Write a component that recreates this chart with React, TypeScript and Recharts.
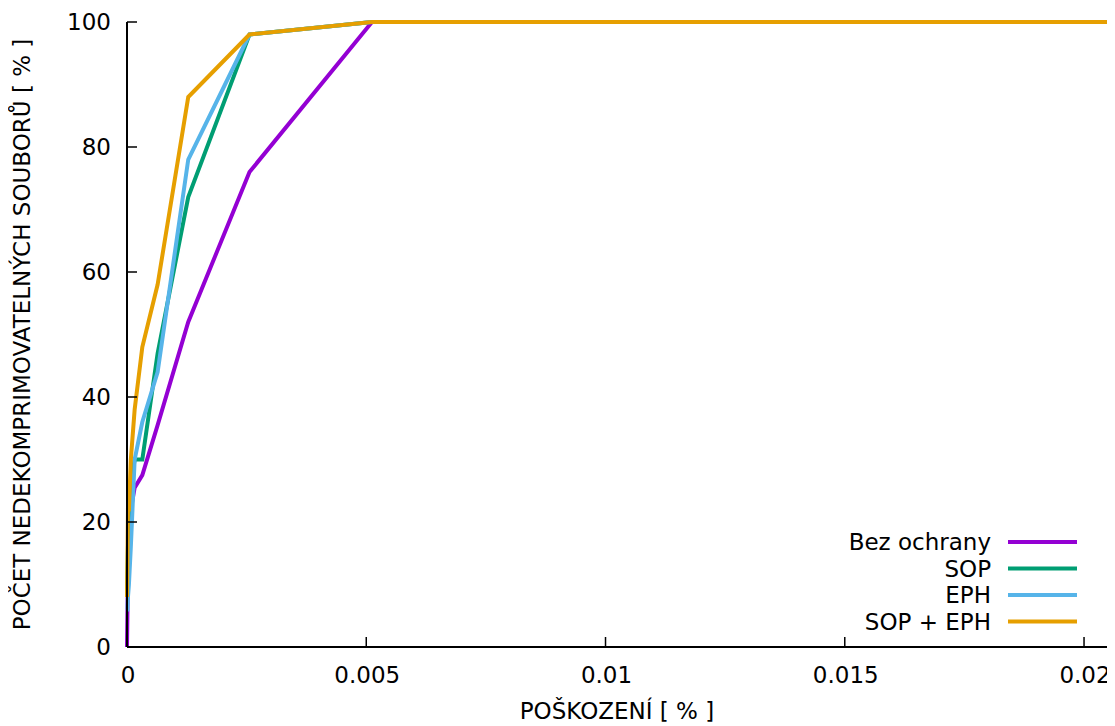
import React from "react";
import { LineChart, Line, XAxis, YAxis, Label } from "recharts";

const damage = [0, 0.00001, 0.00002, 0.00004, 0.00008, 0.00016, 0.00032, 0.00064, 0.00128, 0.00256, 0.00512, 0.01024, 0.02048];
const bezOchrany = [0, 6, 12, 18, 22, 25.5, 27.5, 35.5, 52, 76, 100, 100, 100];
const sop = [8, 12, 16, 20, 26, 30, 30, 47, 72, 98, 100, 100, 100];
const eph = [6, 6, 8, 10, 16, 30, 36, 44, 78, 98, 100, 100, 100];
const sopEph = [8, 14, 22, 22, 30, 38, 48, 58, 88, 98, 100, 100, 100];

const xTicks = [0, 0.005, 0.01, 0.015, 0.02];
const yTicks = [0, 20, 40, 60, 80, 100];

const SERIES = [
  { key: "bez", name: "Bez ochrany", color: "#9400d3" },
  { key: "sop", name: "SOP", color: "#009e73" },
  { key: "eph", name: "EPH", color: "#56b4e9" },
  { key: "both", name: "SOP + EPH", color: "#e69f00" },
];

const data = damage.map((x, i) => ({
  x,
  bez: bezOchrany[i],
  sop: sop[i],
  eph: eph[i],
  both: sopEph[i],
}));

const FONT = "'DejaVu Sans', sans-serif";
const FS = 23;
const TICK = 10;

const fmtX = (v: number) => (v === 0 ? "0" : String(Number(v.toFixed(3))));

const BottomTick = ({ x, y, payload }: any) => (
  <g>
    <line x1={x} x2={x} y1={y} y2={y - TICK} stroke="#000" strokeWidth={1.5} />
    <text x={x + 1} y={y + 28} textAnchor="middle" dominantBaseline="central" fontFamily={FONT} fontSize={FS} fill="#000">
      {fmtX(payload.value)}
    </text>
  </g>
);

const TopTick = ({ x, y }: any) => (
  <line x1={x} x2={x} y1={y} y2={y + TICK} stroke="#000" strokeWidth={1.5} />
);

const LeftTick = ({ x, y, payload }: any) => (
  <g>
    <line x1={x} x2={x + TICK} y1={y} y2={y} stroke="#000" strokeWidth={1.5} />
    <text x={x - 16} y={y} textAnchor="end" dominantBaseline="central" fontFamily={FONT} fontSize={FS} fill="#000">
      {payload.value}
    </text>
  </g>
);

const RightTick = ({ x, y }: any) => (
  <line x1={x} x2={x - TICK} y1={y} y2={y} stroke="#000" strokeWidth={1.5} />
);

const LegendBox = () => (
  <svg width={260} height={112} style={{ display: "block" }}>
    {SERIES.map((s, i) => {
      const cy = 14 + i * 26.5;
      return (
        <g key={s.key}>
          <text x={159} y={cy} textAnchor="end" dominantBaseline="central" fontFamily={FONT} fontSize={FS} fill="#000">
            {s.name}
          </text>
          <line x1={176} x2={245} y1={cy} y2={cy} stroke={s.color} strokeWidth={4} />
        </g>
      );
    })}
  </svg>
);

export default function App() {
  return (
    <div style={{ position: "relative", width: 1107, height: 718 }}>
      <LineChart width={1107} height={718} data={data} margin={{ top: 14, right: 8, left: 0, bottom: 0 }}>
        <XAxis
          dataKey="x"
          type="number"
          domain={[0, 0.02048]}
          ticks={xTicks}
          interval={0}
          height={79}
          tickSize={0}
          tickMargin={0}
          tickLine={false}
          tick={<BottomTick />}
          axisLine={{ stroke: "#000", strokeWidth: 2 }}
        >
          <Label value="POŠKOZENÍ [ % ]" position="insideBottom" offset={7} style={{ fontFamily: FONT, fontSize: FS, fill: "#000" }} />
        </XAxis>
        <XAxis
          xAxisId="top"
          orientation="top"
          dataKey="x"
          type="number"
          domain={[0, 0.02048]}
          ticks={xTicks}
          interval={0}
          height={0}
          tickSize={0}
          tickMargin={0}
          tickLine={false}
          tick={<TopTick />}
          axisLine={{ stroke: "#000", strokeWidth: 2 }}
        />
        <YAxis
          type="number"
          domain={[0, 100]}
          ticks={yTicks}
          interval={0}
          width={119}
          tickSize={0}
          tickMargin={0}
          tickLine={false}
          tick={<LeftTick />}
          axisLine={{ stroke: "#000", strokeWidth: 2 }}
        >
          <Label
            value="POČET NEDEKOMPRIMOVATELNÝCH SOUBORŮ [ % ]"
            angle={-90}
            position="insideLeft"
            offset={14}
            style={{ textAnchor: "middle", fontFamily: FONT, fontSize: FS, fill: "#000" }}
          />
        </YAxis>
        <YAxis
          yAxisId="right"
          orientation="right"
          type="number"
          domain={[0, 100]}
          ticks={yTicks}
          interval={0}
          width={0}
          tickSize={0}
          tickMargin={0}
          tickLine={false}
          tick={<RightTick />}
          axisLine={{ stroke: "#000", strokeWidth: 2 }}
        />
        {SERIES.map((s) => (
          <Line
            key={s.key}
            type="linear"
            dataKey={s.key}
            name={s.name}
            stroke={s.color}
            strokeWidth={4}
            dot={false}
            activeDot={false}
            isAnimationActive={false}
          />
        ))}
      </LineChart>
      <div style={{ position: "absolute", left: 824, top: 520 }}>
        <LegendBox />
      </div>
    </div>
  );
}
